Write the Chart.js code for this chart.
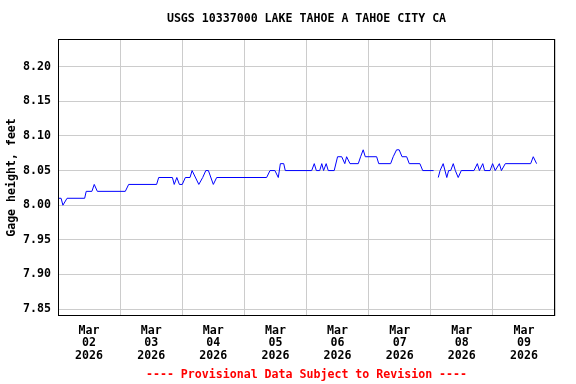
<!DOCTYPE html>
<html>
<head>
<meta charset="utf-8">
<script src="https://cdn.jsdelivr.net/npm/chart.js@4/dist/chart.umd.min.js"></script>
<style>
  body { margin: 0; background: #fff; }
  #wrap { width: 576px; height: 384px; }
</style>
</head>
<body>
<div id="wrap"><canvas id="myChart" width="576" height="384"></canvas></div>
<script>
// hours since Mar 02 2026 00:00 (null = gap in record)
const hours = [0, 1.2, 1.9, 3.5, 10.3, 10.9, 13.1, 14.0, 15.2, 26.0, 27.3, 38.1, 38.9, 44.2, 44.9, 45.9, 46.9, 48.0, 49.2, 51.0,
  51.8, 54.4, 55.9, 57.1, 58.1, 60.0, 61.3, 80.6, 81.9, 83.8, 85.1, 85.9, 87.2, 87.8, 98.0, 99.0, 99.8, 101.1, 101.9, 102.6,
  103.6, 104.4, 106.7, 108.0, 109.6, 110.8, 111.5, 112.8, 116.0, 116.9, 117.9, 118.7, 123.1, 123.9, 128.5, 129.5, 130.8, 131.8,
  132.9, 134.7, 135.7, 139.8, 140.9, 145.1, 146.0, 146.9, 147.6, 148.8, 150.2, 150.9, 151.7, 152.7, 153.5, 154.6, 155.8, 160.7,
  162.0, 162.8, 164.1, 164.8, 166.9, 167.9, 168.9, 170.5, 171.3, 172.8, 182.6, 183.6, 184.9];
const gage = [8.01, 8.01, 8.00, 8.01, 8.01, 8.02, 8.02, 8.03, 8.02, 8.02, 8.03, 8.03, 8.04, 8.04, 8.03, 8.04, 8.03, 8.03, 8.04, 8.04,
  8.05, 8.03, 8.04, 8.05, 8.05, 8.03, 8.04, 8.04, 8.05, 8.05, 8.04, 8.06, 8.06, 8.05, 8.05, 8.06, 8.05, 8.05, 8.06, 8.05,
  8.06, 8.05, 8.05, 8.07, 8.07, 8.06, 8.07, 8.06, 8.06, 8.07, 8.08, 8.07, 8.07, 8.06, 8.06, 8.07, 8.08, 8.08,
  8.07, 8.07, 8.06, 8.06, 8.05, 8.05, null, 8.04, 8.05, 8.06, 8.04, 8.05, 8.05, 8.06, 8.05, 8.04, 8.05, 8.05,
  8.06, 8.05, 8.06, 8.05, 8.05, 8.06, 8.05, 8.06, 8.05, 8.06, 8.06, 8.07, 8.06];

const dayLabels = ['02', '03', '04', '05', '06', '07', '08', '09'];
const yTicks = [7.85, 7.90, 7.95, 8.00, 8.05, 8.10, 8.15, 8.20];
const titleText = 'USGS 10337000 LAKE TAHOE A TAHOE CITY CA';
const footText = '---- Provisional Data Subject to Revision ----';

const monoFont = { family: '"DejaVu Sans Mono", monospace', size: 11.6, weight: 'bold' };
const fontStr = 'bold 11.6px "DejaVu Sans Mono", monospace';

// box round the plot area, title and footer centred over it
const frame = {
  id: 'frame',
  afterDraw(chart) {
    const a = chart.chartArea, c = chart.ctx;
    const mid = (a.left + a.right) / 2;
    c.save();
    c.strokeStyle = '#000';
    c.lineWidth = 1;
    c.strokeRect(a.left + 0.5, a.top + 0.5, a.right - a.left - 1, a.bottom - a.top - 1);
    c.font = fontStr;
    c.textAlign = 'center';
    c.textBaseline = 'middle';
    c.fillStyle = '#000';
    c.fillText(titleText, mid, 19);
    c.fillStyle = '#ff0000';
    c.fillText(footText, mid, 375);
    c.restore();
  }
};

const ctx = document.getElementById('myChart').getContext('2d');
const myChart = new Chart(ctx, {
  type: 'line',
  data: {
    datasets: [{
      data: hours.map((h, i) => ({ x: h, y: gage[i] })),
      borderColor: '#0000ff',
      borderWidth: 1,
      pointRadius: 0,
      tension: 0,
      spanGaps: false
    }]
  },
  options: {
    responsive: false,
    animation: false,
    events: [],
    layout: { padding: { left: 0, right: 21, top: 39, bottom: 20 } },
    plugins: {
      legend: { display: false },
      tooltip: { enabled: false },
      title: { display: false }
    },
    scales: {
      x: {
        type: 'linear',
        min: 0,
        max: 192,
        afterBuildTicks: s => { s.ticks = []; for (let v = 0; v <= 192; v += 12) s.ticks.push({ value: v }); },
        afterFit: s => { s.height = 48; },
        border: { display: false },
        grid: {
          drawTicks: false,
          lineWidth: 1,
          color: c => (c.tick && c.tick.value % 24 === 0) ? '#cccccc' : 'rgba(0,0,0,0)'
        },
        ticks: {
          autoSkip: false,
          maxRotation: 0,
          padding: 8.5,
          color: '#000',
          font: Object.assign({}, monoFont, { lineHeight: 1.09 }),
          callback: v => (v % 24 === 12) ? ['Mar', dayLabels[(v - 12) / 24], '2026'] : ''
        }
      },
      y: {
        min: 7.84,
        max: 8.24,
        afterBuildTicks: s => { s.ticks = yTicks.map(v => ({ value: v })); },
        afterFit: s => { s.width = 58; },
        border: { display: false },
        grid: { drawTicks: false, color: '#cccccc', lineWidth: 1 },
        ticks: {
          padding: 7,
          color: '#000',
          font: monoFont,
          callback: v => v.toFixed(2)
        },
        title: {
          display: true,
          text: 'Gage height, feet',
          color: '#000',
          font: monoFont,
          padding: { top: 5, bottom: 0 }
        }
      }
    }
  },
  plugins: [frame]
});
</script>
</body>
</html>
